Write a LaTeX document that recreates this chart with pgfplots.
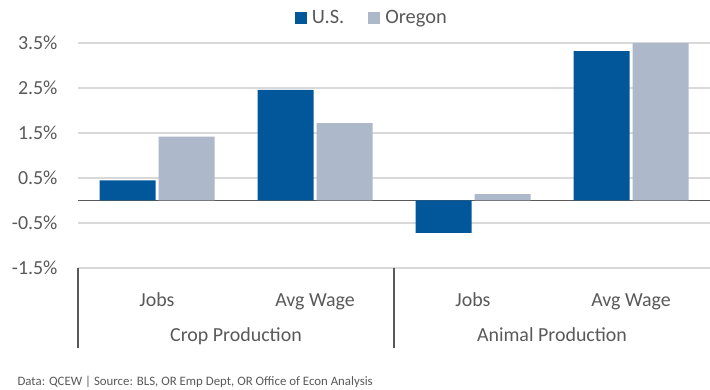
\documentclass[border=0pt]{standalone}
\usepackage{fontspec}
\setmainfont{Carlito}
\usepackage{pgfplots}
\pgfplotsset{compat=1.18}
\definecolor{usblue}{HTML}{02579B}
\definecolor{orgray}{HTML}{ADB9CA}
\definecolor{txtgray}{HTML}{595959}
\definecolor{gridgray}{HTML}{D9D9D9}
\begin{document}
\begin{tikzpicture}
\useasboundingbox (0,0) rectangle (710bp,390bp);
\begin{axis}[
  at={(78bp,122bp)}, anchor=south west,
  scale only axis, width=632bp, height=225bp,
  clip=false,
  xmin=-0.5, xmax=3.5, ymin=-1.5, ymax=3.5,
  ybar=3bp, bar width=56bp,
  axis line style={draw=none},
  tick style={draw=none},
  ytick={-1.5,-0.5,0.5,1.5,2.5,3.5},
  yticklabels={-1.5\%,-0.5\%,0.5\%,1.5\%,2.5\%,3.5\%},
  yticklabel style={font=\fontsize{20}{24}\selectfont, text=txtgray, anchor=east, xshift=-17bp},
  ymajorgrids, grid style={gridgray, line width=1.3bp},
  extra y ticks={0}, extra y tick labels={},
  extra y tick style={grid style={txtgray, line width=1.3bp}},
  xtick={0,1,2,3},
  xticklabels={Jobs,Avg Wage,Jobs,Avg Wage},
  xticklabel style={font=\fontsize{20}{24}\selectfont, text=txtgray, anchor=base, yshift=-34bp},
  legend columns=2,
  legend style={draw=none, fill=none, at={(0.465,1)}, anchor=center, yshift=25bp,
    font=\fontsize{20.5}{24}\selectfont, text=txtgray,
    /tikz/every even column/.append style={column sep=22bp}},
  legend image code/.code={\fill[#1] (0bp,-6bp) rectangle (12bp,6bp); \path (15bp,0bp);},
]
\addplot[fill=usblue, draw=none] coordinates {(0,0.45) (1,2.46) (2,-0.72) (3,3.32)};
\addplot[fill=orgray, draw=none] coordinates {(0,1.42) (1,1.72) (2,0.14) (3,3.5)};
\legend{U.S.,Oregon}
\draw[txtgray, line width=1.3bp] (axis cs:-0.5,-1.5) -- ([yshift=-80bp]axis cs:-0.5,-1.5);
\draw[txtgray, line width=1.3bp] (axis cs:1.5,-1.5) -- ([yshift=-80bp]axis cs:1.5,-1.5);
\node[anchor=base, font=\fontsize{20}{24}\selectfont, text=txtgray] at ([yshift=-73bp]axis cs:0.5,-1.5) {Crop Production};
\node[anchor=base, font=\fontsize{20}{24}\selectfont, text=txtgray] at ([yshift=-73bp]axis cs:2.5,-1.5) {Animal Production};
\end{axis}
\node[anchor=base west, font=\fontsize{12.9}{14}\selectfont, text=txtgray] at (14bp,5bp) {Data: QCEW | Source: BLS, OR Emp Dept, OR Office of Econ Analysis};
\end{tikzpicture}
\end{document}
